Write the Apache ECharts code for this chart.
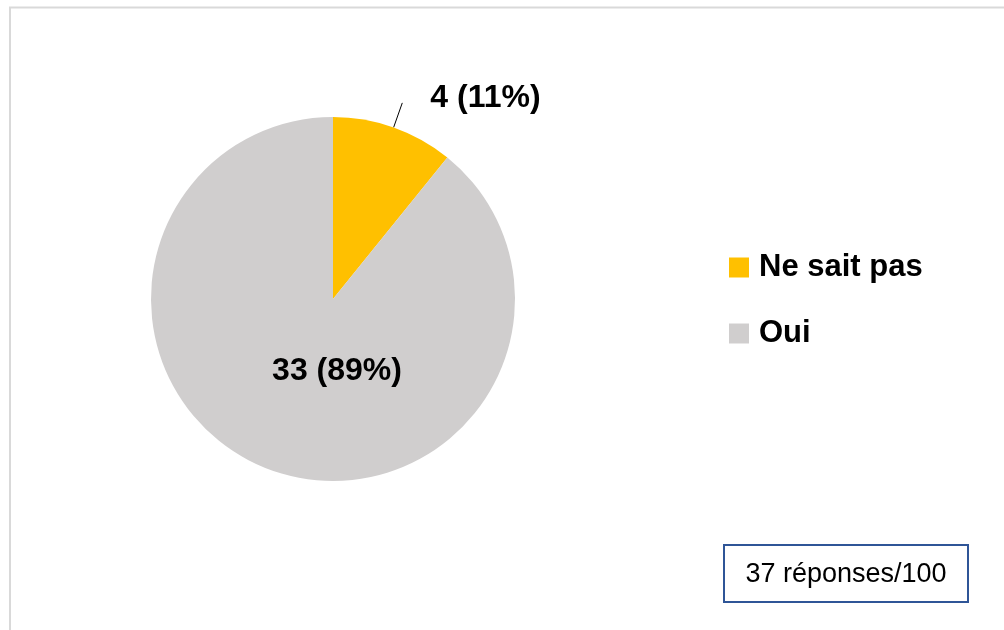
<!DOCTYPE html>
<html>
<head>
<meta charset="utf-8">
<script src="https://cdn.jsdelivr.net/npm/echarts@6/dist/echarts.min.js"></script>
<style>
html,body{margin:0;padding:0;background:#fff;}
#chart{width:1004px;height:630px;}
</style>
</head>
<body>
<div id="chart"></div>
<script>
const categories = ['Ne sait pas', 'Oui'];
const values = [4, 33];
const colors = ['#FFC000', '#D0CECE'];
const noteText = '37 réponses/100';

const total = values.reduce((a, b) => a + b, 0);
const FONT = '"Liberation Sans", Arial, sans-serif';

const chart = echarts.init(document.getElementById('chart'), null, {renderer: 'canvas'});

const data = categories.map((c, i) => ({
  name: c,
  value: values[i],
  itemStyle: {color: colors[i]},
  label: i === 1 ? {position: 'inside'} : {position: 'outside'},
  labelLine: i === 1 ? {show: false} : {show: true}
}));

chart.setOption({
  animation: false,
  backgroundColor: '#fff',
  legend: {
    orient: 'vertical',
    left: 724,
    top: 247,
    itemWidth: 20,
    itemHeight: 20,
    itemGap: 35,
    icon: 'rect',
    data: categories,
    textStyle: {
      fontFamily: FONT,
      fontWeight: 'bold',
      fontSize: 31,
      lineHeight: 31,
      color: '#000',
      padding: [0, 0, 0, 5]
    }
  },
  graphic: [
    {
      type: 'rect',
      shape: {x: 10, y: 7.5, width: 1100, height: 700},
      style: {fill: 'none', stroke: '#D9D9D9', lineWidth: 2},
      silent: true
    },
    {
      type: 'rect',
      shape: {x: 724, y: 545, width: 244, height: 57},
      style: {fill: '#fff', stroke: '#2F5597', lineWidth: 2}
    },
    {
      type: 'text',
      x: 846, y: 575,
      style: {
        text: noteText,
        fontFamily: FONT,
        fontSize: 27,
        fill: '#000',
        align: 'center',
        verticalAlign: 'middle'
      }
    }
  ],
  series: [{
    type: 'pie',
    center: [333, 299],
    radius: [0, 182],
    startAngle: 90,
    clockwise: true,
    avoidLabelOverlap: false,
    data: data,
    label: {
      show: true,
      fontFamily: FONT,
      fontWeight: 'bold',
      fontSize: 32,
      color: '#000',
      distanceToLabelLine: 25,
      formatter: p => p.value + ' (' + Math.round(p.value / total * 100) + '%)'
    },
    labelLine: {
      length: 26,
      length2: 0,
      lineStyle: {color: '#000', width: 1}
    },
    labelLayout: function (params) {
      if (params.dataIndex === 1) {
        return {x: 337, y: 371, align: 'center', verticalAlign: 'middle'};
      }
      return {dx: 3, dy: -5};
    },
    emphasis: {disabled: true}
  }]
});
</script>
</body>
</html>
